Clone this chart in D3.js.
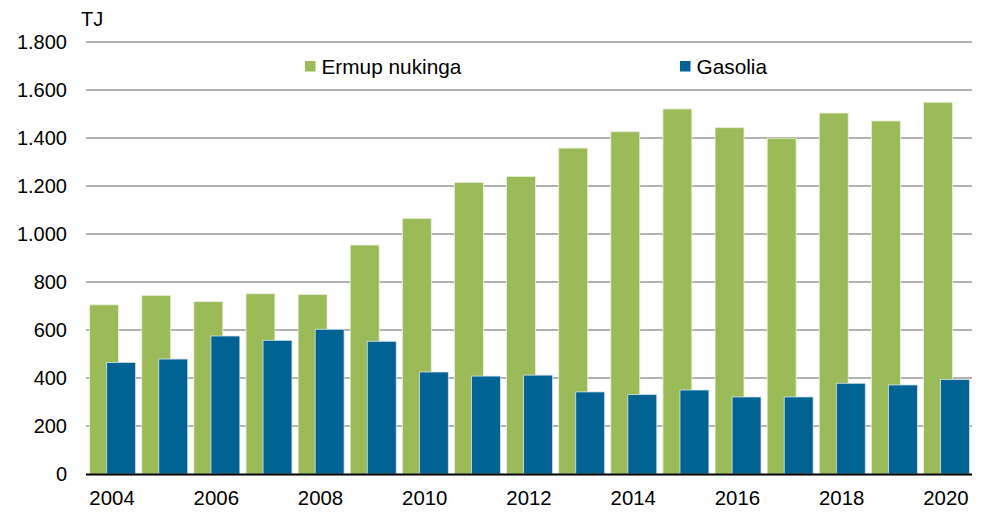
<!DOCTYPE html>
<html><head><meta charset="utf-8">
<script src="https://cdn.jsdelivr.net/npm/d3@7"></script>
<style>body{margin:0;background:#fff}svg{display:block}text{font-family:"Liberation Sans",Arial,sans-serif;fill:#000}</style>
</head><body><svg id="c" width="983" height="513"></svg>
<script>
const years = [2004,2005,2006,2007,2008,2009,2010,2011,2012,2013,2014,2015,2016,2017,2018,2019,2020];
const ermup = [705,744,718,751,748,954,1065,1215,1240,1358,1426,1521,1443,1399,1504,1471,1549];
const gasolia = [465,479,575,557,603,553,425,408,412,342,331,350,321,321,378,371,394];
const yTicks = [0,200,400,600,800,1000,1200,1400,1600,1800];
const xTickYears = [2004,2006,2008,2010,2012,2014,2016,2018,2020];
const seriesNames = ["Ermup nukinga","Gasolia"];
const colors = ["#9BBB59","#006394"];

const svg = d3.select("#c");
const m = {l:86, r:972, t:42, b:474};
const x = d3.scaleBand().domain(years).range([m.l, m.r]).paddingInner(0).paddingOuter(0);
const y = d3.scaleLinear().domain([0,1800]).range([m.b, m.t]);
const fmt = d => d3.format(",")(d).replace(/,/g, ".");

// gridlines
svg.append("g").selectAll("line").data(yTicks.filter(d=>d>0)).join("line")
  .attr("x1", m.l).attr("x2", m.r).attr("y1", d=>y(d)).attr("y2", d=>y(d))
  .attr("stroke", "#999").attr("stroke-width", 1.6);

// y axis labels
const yAxis = d3.axisLeft(y).tickValues(yTicks).tickFormat(fmt).tickSize(0).tickPadding(19);
const gy = svg.append("g").attr("transform", `translate(${m.l},0)`).call(yAxis);
gy.select(".domain").remove();
gy.selectAll("text").attr("font-size", 20).attr("font-family", '"Liberation Sans",Arial,sans-serif').attr("fill","#000");

svg.append("text").attr("x", 81).attr("y", 26).attr("font-size", 20).text("TJ");

const bw = x.bandwidth();
const w = bw * 0.555, off = bw * 0.07, shift = bw * 0.327;

svg.append("g").selectAll("rect").data(years).join("rect")
  .attr("x", d => x(d) + off).attr("width", w)
  .attr("y", (d,i) => y(ermup[i])).attr("height", (d,i) => y(0) - y(ermup[i]))
  .attr("fill", colors[0]).attr("stroke", "#e8f0da").attr("stroke-width", 0.8);

svg.append("g").selectAll("rect").data(years).join("rect")
  .attr("x", d => x(d) + off + shift).attr("width", w)
  .attr("y", (d,i) => y(gasolia[i])).attr("height", (d,i) => y(0) - y(gasolia[i]))
  .attr("fill", colors[1]).attr("stroke", "#d6e4ee").attr("stroke-width", 0.8);

// zero axis
svg.append("line").attr("x1", m.l).attr("x2", m.r).attr("y1", y(0)+0.5).attr("y2", y(0)+0.5)
  .attr("stroke", "#000").attr("stroke-width", 2);

// x labels
const xAxis = d3.axisBottom(x).tickValues(xTickYears).tickSize(0).tickPadding(17);
const gx = svg.append("g").attr("transform", `translate(0,${m.b})`).call(xAxis);
gx.select(".domain").remove();
gx.selectAll("text").attr("font-size", 20.4).attr("font-family", '"Liberation Sans",Arial,sans-serif').attr("fill","#000");

// legend
const legX = [305, 680];
const lg = svg.append("g");
seriesNames.forEach((n,i) => {
  lg.append("rect").attr("x", legX[i]).attr("y", 61).attr("width", 10.5).attr("height", 10.5).attr("fill", colors[i]);
  lg.append("text").attr("x", legX[i] + 16.5).attr("y", 73.5).attr("font-size", 20.8).text(n);
});
</script></body></html>
